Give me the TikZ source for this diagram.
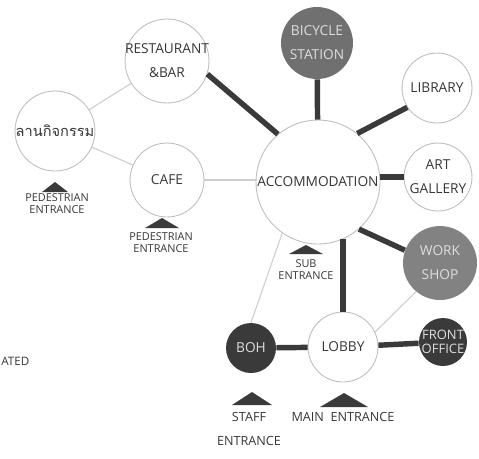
\documentclass[tikz,border=0pt]{standalone}
\usepackage{fontspec}
\setmainfont{Open Sans}
\newfontfamily\thaifont[Script=Thai]{Loma}
\usepackage{tikz}
\usetikzlibrary{calc}
\usepackage{xcolor}
\definecolor{ink}{RGB}{58,58,58}
\definecolor{linkgray}{RGB}{205,205,205}
\definecolor{ringgray}{RGB}{190,190,190}
\definecolor{bikegray}{RGB}{112,112,112}
\definecolor{shopgray}{RGB}{130,130,130}
\definecolor{deepgray}{RGB}{58,58,58}
\definecolor{txtgray}{RGB}{55,55,55}
\definecolor{paletxt}{RGB}{222,222,222}

\begin{document}
\begin{tikzpicture}[x=0.02cm, y=-0.02cm,
  room/.style={circle, draw=ringgray, line width=0.5pt, fill=white, inner sep=0pt, minimum size=#1*0.04cm},
  darkroom/.style={room=#1, draw=none},
  tag/.style={text=txtgray, font=\fontsize{7.8}{13.6}\selectfont, align=center},
  paletag/.style={tag, text=paletxt},
  gate/.style={text=txtgray, font=\fontsize{6.2}{6.8}\selectfont, align=center},
  biggate/.style={text=txtgray, font=\fontsize{7.2}{13.6}\selectfont, align=center},
  strong/.style={ink, line width=3.1pt},
  weak/.style={linkgray, line width=0.6pt}]
  \useasboundingbox (0,0) rectangle (479,458);

  % spaces
  \node[room=42, label={[tag]center:{RESTAURANT\\\&BAR}}] (rest) at (167,61) {};
  \node[room=40, label={[tag, font=\thaifont\fontsize{8.3}{10}\selectfont]center:{ลานกิจกรรม}}] (court) at (55,131) {};
  \node[room=37, label={[tag]center:{CAFE}}] (cafe) at (167,180) {};
  \node[darkroom=36, fill=bikegray, label={[paletag]center:{BICYCLE\\STATION}}] (bike) at (317,43) {};
  \node[room=35, label={[tag]center:{LIBRARY}}] (lib) at (437,88) {};
  \node[room=34, label={[tag]center:{ART\\GALLERY}}] (art) at (438,177) {};
  \node[room=62, label={[tag]center:{ACCOMMODATION}}] (accom) at (318,182) {};
  \node[darkroom=37, fill=shopgray, label={[paletag]center:{WORK\\SHOP}}] (shop) at (440,263) {};
  \node[room=35, label={[tag]center:{LOBBY}}] (lobby) at (343,347) {};
  \node[darkroom=25, fill=deepgray, label={[paletag]center:{BOH}}] (boh) at (251,348) {};
  \node[darkroom=24, fill=deepgray, label={[paletag, font=\fontsize{7.4}{8}\selectfont]center:{FRONT\\OFFICE}}] (front) at (443,342) {};

  % links
  \draw[weak] (court) -- (rest);
  \draw[weak] (court) -- (cafe);
  \draw[weak] (cafe.east) -- (cafe.east -| accom.west);
  \draw[weak] (boh.north) -- (accom.235);
  \draw[weak] (lobby.25) -- (shop.230);
  \draw[strong] (rest.-18) -- (accom.130);
  \draw[strong] (bike) -- (accom);
  \draw[strong] (lib.213) -- (accom.51);
  \draw[strong] (art.west) -- (art.west -| accom.east);
  \draw[strong] (accom.-49) -- (shop.160);
  \draw[strong] (lobby.north) -- (lobby.north |- accom.-66);
  \draw[strong] (boh) -- (lobby);
  \draw[strong] (lobby) -- (front);

  % entrances
  \foreach \x/\y/\w/\h in {55/192/26/10, 162/228/34/10, 306/254/34/9, 252/405/40/13, 344/407/48/14}
    \fill[ink] (\x-\w/2,\y) -- (\x+\w/2,\y) -- (\x,\y-\h) -- cycle;
  \node[gate] (pedleft) at (57,204) {PEDESTRIAN\\ENTRANCE};
  \node[gate] (pedcafe) at (161,243) {PEDESTRIAN\\ENTRANCE};
  \node[gate] (subgate) at (306,270) {SUB\\ENTRANCE};
  \node[biggate] (staffgate) at (249,429) {STAFF\\ENTRANCE};
  \node[biggate] (maingate) at (343,417) {MAIN\ \ ENTRANCE};
  \node[biggate, font=\fontsize{6.6}{8}\selectfont, anchor=west, inner sep=0pt] (cutoff) at (1,361) {ATED};
\end{tikzpicture}
\end{document}
